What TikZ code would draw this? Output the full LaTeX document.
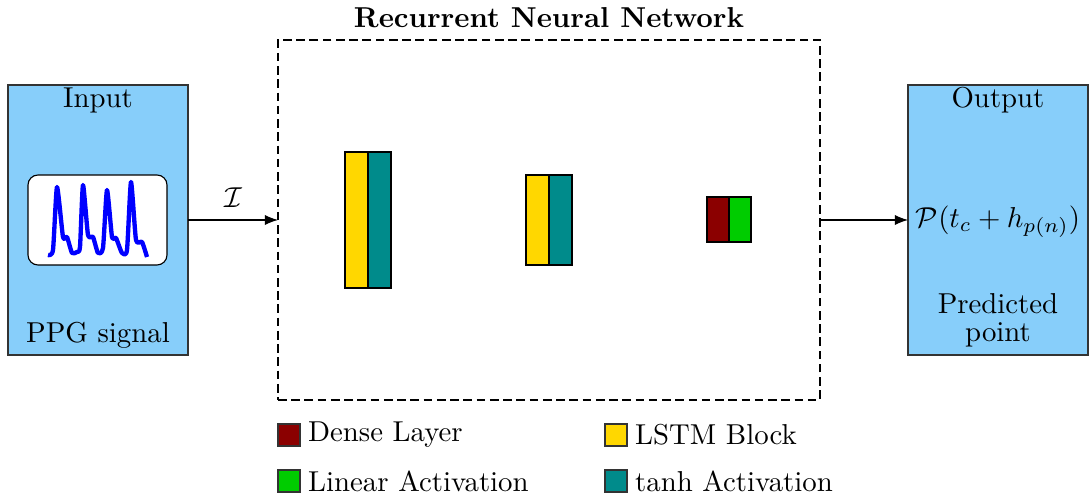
\documentclass[tikz,border=0pt]{standalone}
\usepackage{amsmath,amssymb}
\usetikzlibrary{arrows,arrows.meta,positioning}
\definecolor{boxblue}{HTML}{87CEFA}
\definecolor{lstmyellow}{HTML}{FFD700}
\definecolor{tanhteal}{HTML}{008B8B}
\definecolor{densered}{HTML}{8B0000}
\definecolor{lineargreen}{HTML}{00CC00}
\def\px{0.0122cm}
\begin{document}
\begin{tikzpicture}[x=\px,y=-\px, >={Latex[length=4.6pt,width=3.6pt]}]
        \tikzstyle{every node}+=[inner sep=0pt, outer sep=0pt]
        \tikzstyle{panel}=[draw=black!80, fill=boxblue, minimum width=180*\px, minimum height=270*\px, anchor=north west]
        \tikzstyle{layer}=[draw=black, minimum width=23*\px, anchor=north west]
        \tikzstyle{key}=[draw=black!80, minimum width=22*\px, minimum height=22*\px, anchor=north west]
        \useasboundingbox (0,0) rectangle (1089,502);
        % input side
        \node [panel] (input) at (8,85) {};
        \node (inputtop) at (98,100) {Input};
        \node (inputbot) at (98,335) {PPG signal};
        \node [draw=black, fill=white, rounded corners=10*\px, minimum width=139*\px, minimum height=90*\px] (ppgbox) at (97.5,220) {};
        \draw [blue, line width=1.5pt, line join=round] plot [smooth, tension=0.35] coordinates {(48,255) (53,250) (57,187) (63,237) (67,237) (72,253) (77,252) (80,247) (83,185) (88,235) (93,237) (98,253) (103,248) (107,190) (112,237) (116,238) (122,253) (127,250) (131,182) (136,240) (142,242) (147,257)};
        % recurrent network
        \node [draw, dash pattern=on 3pt off 1.6pt, minimum width=542*\px, minimum height=360*\px, anchor=north west] (rnn) at (278,40) {};
        \node [font=\bfseries] (rnntitle) at (549,18) {Recurrent Neural Network};
        \node [layer, fill=lstmyellow, minimum height=136*\px] (lstmA) at (345,152) {};
        \node [layer, fill=tanhteal, minimum height=136*\px, anchor=west] (tanhA) at (lstmA.east) {};
        \node [layer, fill=lstmyellow, minimum height=90*\px] (lstmB) at (526,175) {};
        \node [layer, fill=tanhteal, minimum height=90*\px, anchor=west] (tanhB) at (lstmB.east) {};
        \node [layer, fill=densered, minimum width=22*\px, minimum height=45*\px] (dense) at (707,197) {};
        \node [layer, fill=lineargreen, minimum width=22*\px, minimum height=45*\px, anchor=west] (linear) at (dense.east) {};
        % output side
        \node [panel] (output) at (908,85) {};
        \node (outputtop) at (998,100) {Output};
        \node (outputmid) at (998,222) {$\mathcal{P}(t_c+h_{p(n)})$};
        \node [align=center] (outputbot) at (998,320) {Predicted\\[-2.4pt]point};
        % connectors
        \draw [->] (input) -- node [above=0.15cm] {$\mathcal{I}$} (rnn);
        \draw [->] (rnn) -- (output);
        % legend
        \node [key, fill=densered] (keydense) at (278,424) {};
        \node [right=0.1cm of keydense] {Dense Layer};
        \node [key, fill=lineargreen] (keylinear) at (278,470) {};
        \node [right=0.1cm of keylinear] {Linear Activation};
        \node [key, fill=lstmyellow] (keylstm) at (605,424) {};
        \node [right=0.1cm of keylstm] {LSTM Block};
        \node [key, fill=tanhteal] (keytanh) at (605,470) {};
        \node [right=0.1cm of keytanh] {tanh Activation};
\end{tikzpicture}
\end{document}
